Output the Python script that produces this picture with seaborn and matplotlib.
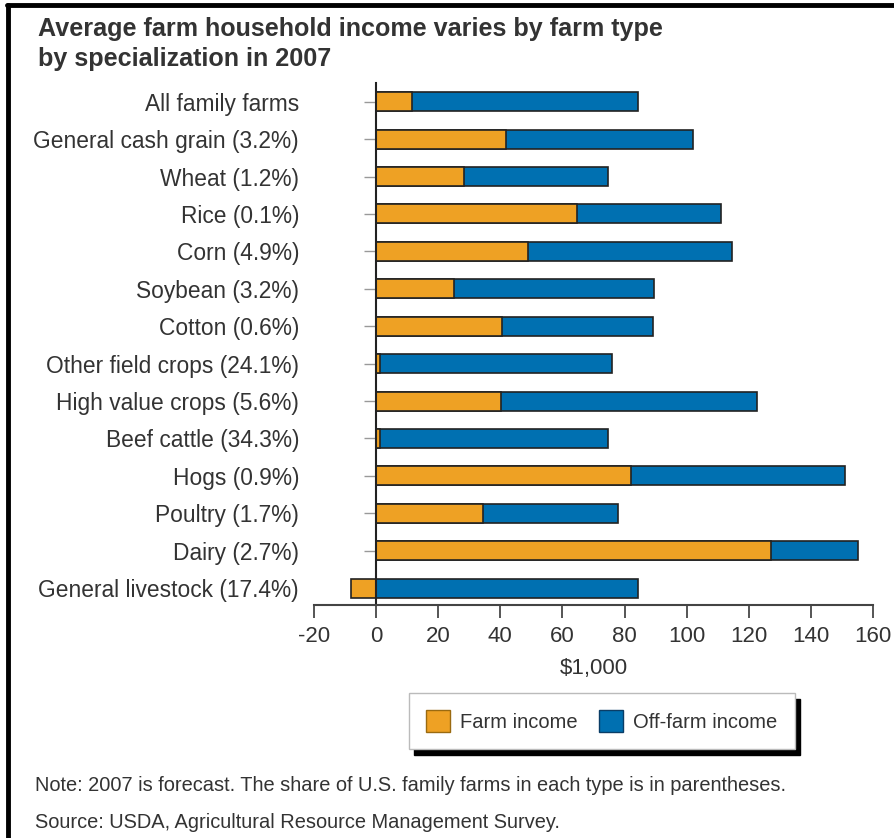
import numpy as np
import pandas as pd
import matplotlib
matplotlib.use("Agg")
import matplotlib.pyplot as plt
import seaborn as sns

# datos ($1,000)
categorias = ["All family farms", "General cash grain (3.2%)", "Wheat (1.2%)",
              "Rice (0.1%)", "Corn (4.9%)", "Soybean (3.2%)", "Cotton (0.6%)",
              "Other field crops (24.1%)", "High value crops (5.6%)",
              "Beef cattle (34.3%)", "Hogs (0.9%)", "Poultry (1.7%)",
              "Dairy (2.7%)", "General livestock (17.4%)"]
farm_income = [11.5, 41.7, 28.4, 64.6, 48.8, 25.0, 40.6, 1.3, 40.1, 1.2, 82.2, 34.4, 127.2, -8.2]
off_farm_income = [72.8, 60.5, 46.4, 46.3, 65.9, 64.5, 48.5, 74.6, 82.5, 73.4, 68.7, 43.5, 27.9, 84.3]
x_ticks = [-20, 0, 20, 40, 60, 80, 100, 120, 140, 160]

c_farm = "#EEA124"
c_off = "#0070B1"
c_text = "#333333"

sns.set_theme(style="white")
plt.rcParams["font.family"] = ["Liberation Sans", "DejaVu Sans"]

df = pd.DataFrame({"Tipo": categorias, "Farm": farm_income, "Off": off_farm_income})
# la barra azul va desde 0 hasta la suma de la parte positiva de la renta agraria y la no agraria
df["Total"] = df["Farm"].clip(lower=0) + df["Off"]

fig = plt.figure(figsize=(8.94, 8.38), dpi=100)
ax = fig.add_axes([0.3512, 0.278, 0.6253, 0.623])

sns.barplot(data=df, y="Tipo", x="Total", orient="h", color=c_off, saturation=1,
            width=0.51, edgecolor="#222222", linewidth=1.2, ax=ax)
sns.barplot(data=df, y="Tipo", x="Farm", orient="h", color=c_farm, saturation=1,
            width=0.51, edgecolor="#222222", linewidth=1.2, ax=ax)

ax.set_xlim(-20, 160)
ax.set_ylim(len(categorias) - 0.55, -0.5)
ax.set_xticks(x_ticks)
ax.set_xticklabels([str(t) for t in x_ticks], fontsize=16, color=c_text)
ax.set_ylabel("")
ax.set_xlabel("$1,000", fontsize=16, color=c_text, labelpad=8)

for s in ["top", "right"]:
    ax.spines[s].set_visible(False)
ax.spines["left"].set_position(("data", 0))
ax.spines["left"].set_color("#222222")
ax.spines["left"].set_linewidth(1.5)
ax.spines["bottom"].set_color("#444444")
ax.spines["bottom"].set_linewidth(1.5)
ax.tick_params(axis="x", direction="out", length=9, width=1.4, color="#555555", pad=6, bottom=True)
ax.tick_params(axis="y", direction="out", length=8.5, width=1.0, color="#999999", pad=47, left=True)
plt.setp(ax.get_yticklabels(), fontsize=16.4, color=c_text)
ax.grid(False)

# título
fig.text(0.0425, 0.965, "Average farm household income varies by farm type",
         fontsize=18.1, fontweight="bold", color=c_text, va="center", ha="left")
fig.text(0.0425, 0.929, "by specialization in 2007",
         fontsize=18.1, fontweight="bold", color=c_text, va="center", ha="left")

# leyenda con sombra negra
handles = [plt.Rectangle((0, 0), 1, 1, facecolor=c_farm, edgecolor="#9a6a10", linewidth=1),
           plt.Rectangle((0, 0), 1, 1, facecolor=c_off, edgecolor="#0a3d66", linewidth=1)]
leg = fig.legend(handles, ["Farm income", "Off-farm income"], ncol=2, loc="center",
                 bbox_to_anchor=(0.673, 0.1395), frameon=True, fancybox=False,
                 shadow={"ox": 4, "oy": -4, "facecolor": "black", "edgecolor": "black", "alpha": 1},
                 fontsize=14.5, handlelength=1.2, handleheight=1.3, handletextpad=0.5,
                 columnspacing=1.05, borderpad=0.85, borderaxespad=0)
leg.get_frame().set_edgecolor("#bbbbbb")
leg.get_frame().set_linewidth(1.0)
for t in leg.get_texts():
    t.set_color(c_text)

# notas
fig.text(0.039, 0.063, "Note: 2007 is forecast. The share of U.S. family farms in each type is in parentheses.",
         fontsize=14.4, color=c_text, va="center", ha="left")
fig.text(0.039, 0.019, "Source: USDA, Agricultural Resource Management Survey.",
         fontsize=14.4, color=c_text, va="center", ha="left")

# marco: línea izquierda y superior
fig.add_artist(plt.Line2D([0.0095, 0.0095], [0, 0.994], color="black", linewidth=3.5))
fig.add_artist(plt.Line2D([0.0075, 1.0], [0.9935, 0.9935], color="black", linewidth=3.5))

fig.savefig("out.png", dpi=100)
